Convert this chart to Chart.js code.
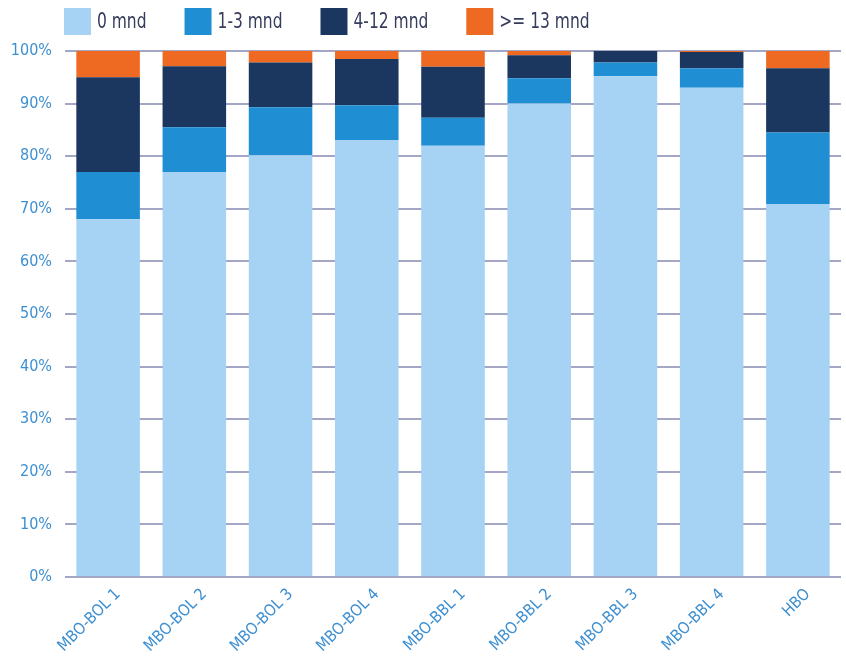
<!DOCTYPE html>
<html>
<head>
<meta charset="utf-8">
<script src="https://cdn.jsdelivr.net/npm/chart.js@4"></script>
<style>
  html, body { margin: 0; padding: 0; background: #ffffff; }
  #wrap { width: 846px; height: 659px; position: relative; }
</style>
</head>
<body>
<div id="wrap"><canvas id="c"></canvas></div>
<script>
const categories = ['MBO-BOL 1', 'MBO-BOL 2', 'MBO-BOL 3', 'MBO-BOL 4', 'MBO-BBL 1', 'MBO-BBL 2', 'MBO-BBL 3', 'MBO-BBL 4', 'HBO'];
const seriesLabels = ['0 mnd', '1-3 mnd', '4-12 mnd', '>= 13 mnd'];
const mnd0    = [68.0, 77.0, 80.2, 83.1, 82.0, 90.0, 95.2, 93.0, 70.9];
const mnd1_3  = [ 9.0,  8.5,  9.1,  6.6,  5.3,  4.8,  2.6,  3.7, 13.6];
const mnd4_12 = [18.0, 11.6,  8.5,  8.8,  9.7,  4.4,  2.2,  3.1, 12.2];
const mnd13   = [ 5.0,  2.9,  2.2,  1.5,  3.0,  0.8,  0.0,  0.2,  3.3];
const yTicks  = [0, 10, 20, 30, 40, 50, 60, 70, 80, 90, 100];

const colors = ['#a6d3f3', '#1f8ed3', '#1b365f', '#ee6a22'];
const axisBlue = '#3d8fd1';
const gridColor = '#a4a6c6';
const FONT = "'DejaVu Sans Condensed', 'Liberation Sans Narrow', sans-serif";

const customLegend = {
  id: 'customLegend',
  afterDraw(chart) {
    const ctx = chart.ctx;
    const sx = 0.82;
    ctx.save();
    let x = 64;
    const boxTop = 8, box = 27;
    ctx.font = '21px ' + FONT;
    ctx.textBaseline = 'middle';
    ctx.textAlign = 'left';
    chart.data.datasets.forEach((ds) => {
      ctx.fillStyle = ds.backgroundColor;
      ctx.fillRect(x, boxTop, box, box);
      const tx = x + box + 6;
      const w = ctx.measureText(ds.label).width * sx;
      ctx.save();
      ctx.translate(tx, boxTop + box / 2 + 1);
      ctx.scale(sx, 1);
      ctx.fillStyle = '#363c5c';
      ctx.fillText(ds.label, 0, 0);
      ctx.restore();
      x = tx + w + 38;
    });
    ctx.restore();
  }
};

const valueSets = [mnd0, mnd1_3, mnd4_12, mnd13];

new Chart(document.getElementById('c'), {
  type: 'bar',
  data: {
    labels: categories,
    datasets: seriesLabels.map((lab, i) => ({
      label: lab,
      data: valueSets[i],
      backgroundColor: colors[i],
      borderWidth: 0,
      barPercentage: 0.737,
      categoryPercentage: 1.0
    }))
  },
  options: {
    responsive: true,
    maintainAspectRatio: false,
    animation: false,
    devicePixelRatio: 1,
    layout: { padding: { top: 51, right: 5, left: 0, bottom: 0 } },
    plugins: {
      legend: { display: false },
      tooltip: { enabled: false }
    },
    scales: {
      x: {
        stacked: true,
        grid: { display: false, drawTicks: false },
        border: { display: false },
        ticks: {
          color: axisBlue,
          font: { family: FONT, size: 16 },
          maxRotation: 45,
          minRotation: 45,
          padding: 8,
          labelOffset: 10,
          autoSkip: false
        },
        afterFit(scale) { scale.height = 82; }
      },
      y: {
        stacked: true,
        min: 0,
        max: 100,
        afterBuildTicks(scale) { scale.ticks = yTicks.map(v => ({ value: v })); },
        grid: { color: gridColor, lineWidth: 2, drawTicks: false },
        border: { display: false },
        ticks: {
          color: axisBlue,
          font: { family: FONT, size: 16 },
          padding: 13,
          callback: (v) => v + '%'
        },
        afterFit(scale) { scale.width = 65; }
      }
    }
  },
  plugins: [customLegend]
});
</script>
</body>
</html>
